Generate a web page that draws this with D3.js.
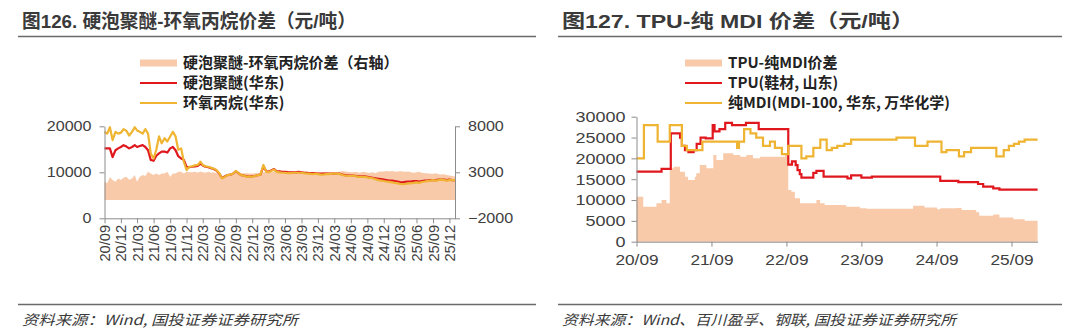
<!DOCTYPE html>
<html>
<head>
<meta charset="utf-8">
<script src="https://cdn.jsdelivr.net/npm/d3@7"></script>
<style>
  body { margin: 0; background: #fff; }
  svg { display: block; }
  text { font-family: "Liberation Sans", Arial, "Noto Sans CJK SC", sans-serif; }
</style>
</head>
<body>
<svg id="chart" width="1080" height="335"></svg>
<script>
// ---------- Left panel: rigid polyether vs propylene oxide (semi-monthly) ----------
const polyetherEast = [
  15200, 15200, 15200, 13300, 14800, 15200, 15500, 15900, 15600, 15200, 15500, 15900,
  15500, 15700, 15900, 15500, 14800, 12700, 12500, 13600, 14100, 14500, 14500, 14300,
  15200, 15500, 14800, 13500, 13000, 12700, 11200, 11100, 11200, 11300, 11400, 11900,
  11500, 11200, 11100, 10900, 10700, 10400, 9700, 8800, 9100, 9400, 9500, 9700,
  10200, 9800, 9400, 9300, 9100, 9100, 9100, 9200, 9400, 9500, 11300, 10300,
  10100, 10400, 10700, 10200, 10200, 10100, 10100, 10000, 10000, 10000, 10000, 10100,
  10000, 9900, 9900, 9800, 9800, 9800, 9700, 9700, 9700, 9700, 9700, 9700,
  9700, 9700, 9700, 9500, 9400, 9300, 9300, 9300, 9200, 9100, 9100, 9100,
  9000, 8900, 8800, 8700, 8600, 8500, 8400, 8300, 8200, 8200, 8100, 8000,
  7900, 7800, 7900, 8000, 8000, 8100, 8100, 8000, 8100, 8200, 8200, 8300,
  8300, 8300, 8400, 8400, 8400, 8300, 8400, 8300, 8300
];
const propyleneOxideEast = [
  18800, 18400, 19800, 17000, 18800, 18400, 18600, 19400, 19000, 18000, 18800, 19800,
  19100, 18800, 18400, 19400, 18400, 14100, 13000, 14900, 17800, 16300, 17400, 16700,
  17800, 18800, 17800, 14900, 15200, 12300, 10500, 11200, 11300, 11500, 11600, 12300,
  11600, 11300, 11200, 11000, 10800, 10500, 9800, 8700, 9000, 9400, 9500, 9700,
  10300, 9800, 9400, 9300, 9000, 9100, 9000, 9200, 9400, 9500, 11600, 10200,
  10000, 10300, 10600, 10100, 10000, 9900, 9900, 9800, 9800, 9900, 9900, 9900,
  9900, 9800, 9700, 9700, 9600, 9700, 9600, 9500, 9500, 9600, 9600, 9700,
  9700, 9700, 9600, 9400, 9300, 9200, 9200, 9300, 9100, 9000, 9000, 9000,
  8900, 8800, 8700, 8500, 8300, 8200, 8100, 8000, 7900, 7800, 7700, 7600,
  7500, 7400, 7500, 7600, 7600, 7700, 7800, 7700, 7900, 8000, 8100, 8200,
  8300, 8200, 8300, 8400, 8300, 8200, 8300, 8300, 8300
];
const polyetherSpread = [
  1970, 1800, 2500, 2150, 1970, 2330, 2150, 2400, 2510, 2200, 2330, 2700,
  1970, 2510, 2700, 2600, 3050, 2880, 2700, 2880, 2700, 2880, 2880, 3050,
  2510, 2880, 2880, 3050, 3050, 2880, 3050, 3000, 3000, 3050, 2950, 3100,
  3000, 2950, 3050, 2950, 3000, 2900, 2700, 2350, 2500, 2700, 2800, 2850,
  2900, 2880, 2880, 2900, 2900, 2880, 2880, 2900, 2900, 2950, 3000, 3050,
  3050, 3000, 3050, 3100, 3150, 3100, 3150, 3200, 3100, 3150, 3100, 3050,
  3100, 3100, 3050, 3050, 3000, 3050, 3000, 2950, 3000, 3050, 2950, 3000,
  3000, 2950, 3050, 3150, 3100, 3050, 3000, 3000, 3050, 2950, 3000, 3050,
  2950, 2950, 3000, 2900, 3050, 3100, 3100, 3150, 3100, 3150, 3100, 3050,
  3150, 3100, 3050, 3100, 3000, 2950, 3000, 3050, 2950, 2900, 2900, 2850,
  2850, 2900, 2800, 2750, 2800, 2700, 2650, 2600, 2550
];
// observation dates: 1st and 16th of each month, Sep 2020 – Dec 2025, plus 1 Jan 2026
const leftDates = [];
for (let m = 0; m < 64; m++) {
  leftDates.push(new Date(2020, 8 + m, 1), new Date(2020, 8 + m, 16));
}
leftDates.push(new Date(2026, 0, 1));
const leftTickLabels = ["20/09","20/12","21/03","21/06","21/09","21/12","22/03","22/06","22/09","22/12",
  "23/03","23/06","23/09","23/12","24/03","24/06","24/09","24/12","25/03","25/06","25/09","25/12"];
const leftYTicks = [0, 10000, 20000];
const leftY2Ticks = [-2000, 3000, 8000];

// ---------- Right panel: TPU vs pure MDI (price change points) ----------
const tpuSteps = [
  ["2020-09-01", 16800], ["2021-01-01", 17500], ["2021-02-15", 26000], ["2021-04-01", 25000],
  ["2021-04-10", 23000], ["2021-04-25", 22000], ["2021-05-12", 21500], ["2021-06-06", 22000],
  ["2021-06-21", 23500], ["2021-07-10", 25000], ["2021-08-04", 24800], ["2021-09-07", 28000],
  ["2021-09-16", 26500], ["2021-10-10", 27000], ["2021-11-07", 28500], ["2021-12-10", 28000],
  ["2022-02-16", 28500], ["2022-04-19", 27000], ["2022-09-10", 18500], ["2022-09-28", 19300],
  ["2022-10-16", 18400], ["2022-10-25", 17200], ["2022-11-05", 16200], ["2022-11-13", 15400],
  ["2023-01-10", 16500], ["2023-01-25", 17000], ["2023-03-01", 15600], ["2023-06-25", 15200],
  ["2023-07-13", 15900], ["2023-09-01", 15400], ["2023-10-22", 15600], ["2024-09-19", 14600],
  ["2024-12-16", 14300], ["2025-03-22", 13850], ["2025-04-16", 13200], ["2025-06-04", 12800],
  ["2025-07-04", 12500]
];
const mdiSteps = [
  ["2020-09-01", 20000], ["2020-10-07", 28000], ["2020-12-13", 24000], ["2021-02-10", 28000],
  ["2021-04-10", 23000], ["2021-05-04", 22000], ["2021-07-19", 24000], ["2022-01-04", 22500],
  ["2022-01-13", 24000], ["2022-02-07", 27000], ["2022-03-10", 26000], ["2022-04-07", 25000],
  ["2022-05-10", 23000], ["2022-06-13", 24000], ["2022-07-07", 22500], ["2022-08-10", 21000],
  ["2022-09-10", 23000], ["2022-11-13", 20000], ["2022-12-07", 20500], ["2023-01-10", 22500],
  ["2023-02-13", 24500], ["2023-03-16", 22000], ["2023-04-10", 22500], ["2023-05-07", 23000],
  ["2023-06-10", 23500], ["2023-07-13", 24500], ["2024-02-19", 25000], ["2024-05-19", 23000],
  ["2024-07-19", 24000], ["2024-09-25", 21500], ["2024-10-19", 22000], ["2024-12-19", 20500],
  ["2025-01-13", 21500], ["2025-02-16", 22500], ["2025-06-19", 20500], ["2025-07-25", 22000],
  ["2025-08-19", 23000], ["2025-09-13", 23500], ["2025-10-07", 24000], ["2025-11-04", 24500]
];
const tpuSpreadSteps = [
  ["2020-09-01", 10800], ["2020-10-04", 8400], ["2020-12-07", 9200], ["2021-01-01", 10000],
  ["2021-01-25", 9200], ["2021-02-10", 17600], ["2021-03-01", 18000], ["2021-04-01", 16800],
  ["2021-04-25", 15600], ["2021-05-10", 14800], ["2021-06-12", 15600], ["2021-06-19", 16400],
  ["2021-07-06", 18400], ["2021-08-07", 17600], ["2021-09-10", 20800], ["2021-09-25", 19600],
  ["2021-10-28", 21200], ["2021-12-16", 20800], ["2022-01-19", 20400], ["2022-02-18", 20800],
  ["2022-03-22", 20000], ["2022-04-25", 20400], ["2022-08-25", 21000], ["2022-09-10", 12400],
  ["2022-09-25", 12000], ["2022-10-12", 10400], ["2022-11-06", 9200], ["2023-01-25", 10000],
  ["2023-02-12", 9200], ["2023-03-06", 8800], ["2023-06-19", 8400], ["2023-08-25", 8000],
  ["2023-09-25", 7900], ["2024-05-10", 8600], ["2024-07-04", 8200], ["2024-09-04", 7800],
  ["2024-09-19", 8000], ["2024-12-07", 8100], ["2025-01-01", 7600], ["2025-03-13", 7050],
  ["2025-03-28", 6200], ["2025-06-04", 6500], ["2025-07-04", 5800], ["2025-09-10", 5400],
  ["2025-11-04", 5050]
];
const rightEndDate = "2026-01-06";
const rightXTickLabels = ["20/09", "21/09", "22/09", "23/09", "24/09", "25/09"];
const rightYTicks = [0, 5000, 10000, 15000, 20000, 25000, 30000];

// ---------- drawing ----------
const COLOR_AREA = "#F8CAAA";
const COLOR_RED = "#E0181E";
const COLOR_GOLD = "#EFB431";
const AXIS = "#8c8c8c";
const LABEL = "#404040";

const svg = d3.select("#chart");
const parse = d3.timeParse("%Y-%m-%d");
const fmtYM = d3.timeFormat("%y/%m");

function stretch(sel, factor) {
  sel.each(function () {
    const w = this.getComputedTextLength();
    d3.select(this).attr("textLength", w * factor).attr("lengthAdjust", "spacingAndGlyphs");
  });
}
function fitWidth(node, width) {
  d3.select(node).attr("textLength", width).attr("lengthAdjust", "spacingAndGlyphs");
}

function styleAxis(g) {
  g.select(".domain").attr("stroke", AXIS).attr("stroke-width", 1);
  g.selectAll(".tick line").attr("stroke", AXIS);
  g.selectAll(".tick text").attr("fill", LABEL)
    .style("font-family", '"Liberation Sans", Arial, sans-serif');
}

function header(x0, x1, title, width) {
  const t = svg.append("text").attr("x", x0 + 4).attr("y", 28)
    .attr("fill", "#3a3a3a").style("font-size", "19px").style("font-weight", "bold")
    .style("font-family", '"Liberation Sans", Arial, "Noto Sans CJK SC", sans-serif')
    .text(title);
  fitWidth(t.node(), width);
  svg.append("line").attr("x1", x0).attr("x2", x1).attr("y1", 36.5).attr("y2", 36.5)
    .attr("stroke", "#6a6a6a").attr("stroke-width", 1.5);
}

function footer(x0, x1, source, width) {
  svg.append("line").attr("x1", x0).attr("x2", x1).attr("y1", 304.5).attr("y2", 304.5)
    .attr("stroke", "#6a6a6a").attr("stroke-width", 1.5);
  const t = svg.append("text").attr("x", x0 + 4).attr("y", 325)
    .attr("fill", "#3a3a3a").style("font-size", "14px").style("font-style", "italic")
    .style("font-family", '"Noto Sans CJK SC", sans-serif')
    .text(source);
  fitWidth(t.node(), width);
}

function legend(x, items) {
  items.forEach((it, i) => {
    const y = 63 + i * 20;
    if (it.type === "area") {
      svg.append("rect").attr("x", x).attr("y", y - 3.5).attr("width", 37).attr("height", 7)
        .attr("fill", it.color);
    } else {
      svg.append("line").attr("x1", x).attr("x2", x + 37).attr("y1", y).attr("y2", y)
        .attr("stroke", it.color).attr("stroke-width", 2);
    }
    svg.append("text").attr("x", x + 43).attr("y", y + 5)
      .attr("fill", "#222").style("font-size", "15px").style("font-weight", "bold")
      .style("font-family", '"Noto Sans CJK SC", sans-serif')
      .text(it.label);
  });
}

// ===== Left panel =====
header(18, 536, "图126. 硬泡聚醚-环氧丙烷价差（元/吨）", 334);
footer(18, 536, "资料来源：Wind, 国投证券证券研究所", 276);
legend(140, [
  { type: "area", color: COLOR_AREA, label: "硬泡聚醚-环氧丙烷价差（右轴）" },
  { type: "line", color: COLOR_RED, label: "硬泡聚醚(华东)" },
  { type: "line", color: COLOR_GOLD, label: "环氧丙烷(华东)" }
]);

const xL = d3.scaleTime().domain([new Date(2020, 8, 1), new Date(2026, 0, 1)]).range([104.5, 455]);
const yL = d3.scaleLinear().domain([0, 20000]).range([218.3, 126.3]);
const yL2 = d3.scaleLinear().domain([-2000, 8000]).range([218.3, 126.3]);

const leftRows = leftDates.map((d, i) => ({
  date: d, poly: polyetherEast[i], po: propyleneOxideEast[i], spread: polyetherSpread[i]
}));

svg.append("path").datum(leftRows)
  .attr("fill", COLOR_AREA)
  .attr("d", d3.area().x(d => xL(d.date)).y0(yL2(0)).y1(d => yL2(d.spread)));
svg.append("path").datum(leftRows)
  .attr("fill", "none").attr("stroke", COLOR_RED).attr("stroke-width", 2.2)
  .attr("stroke-linejoin", "round")
  .attr("d", d3.line().x(d => xL(d.date)).y(d => yL(d.poly)));
svg.append("path").datum(leftRows)
  .attr("fill", "none").attr("stroke", COLOR_GOLD).attr("stroke-width", 2.2)
  .attr("stroke-linejoin", "round")
  .attr("d", d3.line().x(d => xL(d.date)).y(d => yL(d.po)));

const leftTickDates = leftTickLabels.map(s => d3.timeParse("%y/%m")(s));
const gxL = svg.append("g").attr("transform", "translate(0,218.3)")
  .call(d3.axisBottom(xL).tickValues(leftTickDates).tickFormat(fmtYM).tickSize(5).tickSizeOuter(0));
styleAxis(gxL);
gxL.selectAll(".tick text")
  .attr("transform", "rotate(-90)").attr("text-anchor", "end")
  .attr("x", -6.5).attr("y", 0).attr("dy", "0.36em")
  .style("font-size", "14px");
stretch(gxL.selectAll(".tick text"), 1.05);

const gyL = svg.append("g").attr("transform", "translate(104.5,0)")
  .call(d3.axisLeft(yL).tickValues(leftYTicks).tickFormat(d3.format("d")).tickSize(5).tickPadding(8).tickSizeOuter(0));
styleAxis(gyL);
gyL.selectAll(".tick text").style("font-size", "14px");
stretch(gyL.selectAll(".tick text"), 1.15);

const gyL2 = svg.append("g").attr("transform", "translate(455,0)")
  .call(d3.axisRight(yL2).tickValues(leftY2Ticks).tickFormat(d3.format("d")).tickSize(5).tickPadding(8).tickSizeOuter(0));
styleAxis(gyL2);
gyL2.selectAll(".tick text").style("font-size", "14px");
stretch(gyL2.selectAll(".tick text"), 1.15);

// ===== Right panel =====
header(558, 1062, "图127. TPU-纯 MDI 价差（元/吨）", 352);
footer(558, 1062, "资料来源：Wind、百川盈孚、钢联, 国投证券证券研究所", 394);
legend(685, [
  { type: "area", color: COLOR_AREA, label: "TPU-纯MDI价差" },
  { type: "line", color: COLOR_RED, label: "TPU(鞋材, 山东)" },
  { type: "line", color: COLOR_GOLD, label: "纯MDI(MDI-100, 华东, 万华化学)" }
]);

const endR = parse(rightEndDate);
const xR = d3.scaleTime().domain([parse("2020-09-01"), endR]).range([636.5, 1037.6]);
const yT = d3.scaleLinear().domain([0, 30000]).range([241.7, 116.7]);

function stepRows(steps) {
  const rows = steps.map(([d, v]) => ({ date: parse(d), value: v }));
  rows.push({ date: endR, value: steps[steps.length - 1][1] });
  return rows;
}

svg.append("path").datum(stepRows(tpuSpreadSteps))
  .attr("fill", COLOR_AREA)
  .attr("d", d3.area().curve(d3.curveStepAfter).x(d => xR(d.date)).y0(yT(0)).y1(d => yT(d.value)));
svg.append("path").datum(stepRows(tpuSteps))
  .attr("fill", "none").attr("stroke", COLOR_RED).attr("stroke-width", 2.2)
  .attr("d", d3.line().curve(d3.curveStepAfter).x(d => xR(d.date)).y(d => yT(d.value)));
svg.append("path").datum(stepRows(mdiSteps))
  .attr("fill", "none").attr("stroke", COLOR_GOLD).attr("stroke-width", 2.2)
  .attr("d", d3.line().curve(d3.curveStepAfter).x(d => xR(d.date)).y(d => yT(d.value)));

const rightTickDates = rightXTickLabels.map(s => d3.timeParse("%y/%m")(s));
const gxR = svg.append("g").attr("transform", "translate(0,241.7)")
  .call(d3.axisBottom(xR).tickValues(rightTickDates).tickFormat(fmtYM).tickSize(5).tickPadding(8).tickSizeOuter(0));
styleAxis(gxR);
gxR.selectAll(".tick text").style("font-size", "15px");
stretch(gxR.selectAll(".tick text"), 1.15);

const gyR = svg.append("g").attr("transform", "translate(636.5,0)")
  .call(d3.axisLeft(yT).tickValues(rightYTicks).tickFormat(d3.format("d")).tickSize(5).tickPadding(6).tickSizeOuter(0));
styleAxis(gyR);
gyR.selectAll(".tick text").style("font-size", "15px");
stretch(gyR.selectAll(".tick text"), 1.2);
</script>
</body>
</html>
